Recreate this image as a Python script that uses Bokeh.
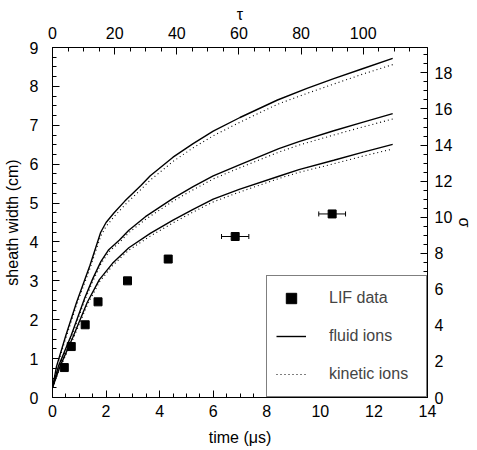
from bokeh.plotting import figure
from bokeh.models import (Range1d, LinearAxis, FixedTicker, Whisker, ColumnDataSource,
                          Legend, LegendItem, TeeHead)
from bokeh.embed import file_html
from bokeh.resources import INLINE

# ---- data ----
lif_t = [0.44, 0.70, 1.22, 1.70, 2.80, 4.32, 6.82, 10.44]
lif_w = [0.77, 1.31, 1.87, 2.46, 3.00, 3.56, 4.14, 4.72]
lif_terr = [0.08, 0.08, 0.10, 0.10, 0.12, 0.12, 0.51, 0.50]

t_top = [0, 0.15, 0.5, 0.9, 1.4, 1.8, 2.0, 2.3, 2.7, 3.3, 3.65, 4.5, 5.25, 6.0, 7.0, 8.4, 9.5, 10.5, 11.6, 12.7]
fluid_top = [0.25, 0.8, 1.6, 2.45, 3.4, 4.25, 4.5, 4.75, 5.05, 5.45, 5.7, 6.18, 6.53, 6.85, 7.2, 7.65, 7.95, 8.2, 8.46, 8.72]
kinetic_top = [0.25, 0.76, 1.53, 2.38, 3.32, 4.15, 4.4, 4.65, 4.95, 5.35, 5.59, 6.07, 6.42, 6.73, 7.08, 7.54, 7.82, 8.06, 8.32, 8.56]

t_mid = [0, 0.22, 0.7, 1.2, 1.5, 1.81, 2.1, 2.5, 2.85, 3.47, 4.5, 5.25, 6.0, 7.0, 8.45, 9.2, 10.5, 11.6, 12.7]
fluid_mid = [0.25, 0.8, 1.6, 2.55, 3.05, 3.5, 3.8, 4.05, 4.3, 4.65, 5.12, 5.42, 5.7, 5.99, 6.40, 6.58, 6.86, 7.08, 7.30]
kinetic_mid = [0.25, 0.76, 1.54, 2.49, 2.98, 3.44, 3.74, 3.99, 4.24, 4.58, 5.05, 5.34, 5.62, 5.91, 6.31, 6.49, 6.75, 6.96, 7.16]

t_bot = [0, 0.28, 0.76, 1.3, 1.75, 2.24, 2.85, 3.65, 4.5, 5.25, 6.0, 6.97, 8.45, 9.2, 10.5, 11.6, 12.7]
fluid_bot = [0.25, 0.8, 1.55, 2.45, 3.03, 3.45, 3.85, 4.22, 4.56, 4.84, 5.1, 5.35, 5.69, 5.86, 6.1, 6.31, 6.51]
kinetic_bot = [0.25, 0.76, 1.49, 2.38, 2.97, 3.39, 3.79, 4.15, 4.49, 4.77, 5.03, 5.28, 5.63, 5.79, 6.01, 6.21, 6.39]

x_ticks = [0, 2, 4, 6, 8, 10, 12, 14]
y_ticks = [0, 1, 2, 3, 4, 5, 6, 7, 8, 9]
tau_ticks = [0, 20, 40, 60, 80, 100]
sigma_ticks = [0, 2, 4, 6, 8, 10, 12, 14, 16, 18]
tau_max = 120.7
sigma_max = 19.41

FONT = "Liberation Sans"

p = figure(width=476, height=448, x_range=Range1d(0, 14), y_range=Range1d(0, 9),
           output_backend="svg", toolbar_location=None,
           min_border_left=51, min_border_right=46, min_border_top=47, min_border_bottom=50)
p.background_fill_color = "white"
p.border_fill_color = "white"
p.outline_line_color = "black"
p.outline_line_width = 1
p.grid.grid_line_color = None

p.extra_x_ranges = {"tau": Range1d(0, tau_max)}
p.extra_y_ranges = {"sigma": Range1d(0, sigma_max)}

bottom_axis = p.below[0]
left_axis = p.left[0]
top_axis = LinearAxis(x_range_name="tau", axis_label="τ")
right_axis = LinearAxis(y_range_name="sigma", axis_label="σ")
p.add_layout(top_axis, "above")
p.add_layout(right_axis, "right")

bottom_axis.axis_label = "time (μs)"
left_axis.axis_label = "sheath width (cm)"

def minor(major, n):
    out = []
    for a, b in zip(major[:-1], major[1:]):
        step = (b - a) / n
        out += [a + step * k for k in range(1, n)]
    return out

bottom_axis.ticker = FixedTicker(ticks=x_ticks, minor_ticks=minor(x_ticks, 4))
left_axis.ticker = FixedTicker(ticks=y_ticks, minor_ticks=minor(y_ticks, 4))
top_axis.ticker = FixedTicker(ticks=tau_ticks, minor_ticks=minor(tau_ticks + [120], 4))
right_axis.ticker = FixedTicker(ticks=sigma_ticks, minor_ticks=minor(sigma_ticks + [20], 4))

for ax in [bottom_axis, left_axis, top_axis, right_axis]:
    ax.axis_line_color = "black"
    ax.axis_line_width = 1
    ax.major_tick_in = 7
    ax.major_tick_out = 0
    ax.minor_tick_in = 4
    ax.minor_tick_out = 0
    ax.major_tick_line_color = "black"
    ax.minor_tick_line_color = "black"
    ax.major_label_text_font = FONT
    ax.major_label_text_font_size = "16px"
    ax.major_label_text_color = "black"
    ax.axis_label_text_font = FONT
    ax.axis_label_text_font_size = "16px"
    ax.axis_label_text_font_style = "normal"
    ax.axis_label_text_color = "black"

bottom_axis.major_label_standoff = 7
bottom_axis.axis_label_standoff = 9
left_axis.major_label_standoff = 14
left_axis.axis_label_standoff = 6
top_axis.major_label_standoff = 9
top_axis.axis_label_standoff = 1
right_axis.major_label_standoff = 7
right_axis.axis_label_standoff = 1

# ---- curves ----
fluid = p.multi_line(xs=[t_top, t_mid, t_bot], ys=[fluid_top, fluid_mid, fluid_bot],
                     line_color="black", line_width=1.4)
kinetic = p.multi_line(xs=[t_top, t_mid, t_bot], ys=[kinetic_top, kinetic_mid, kinetic_bot],
                       line_color="black", line_width=1.1, line_dash="1 3")

# ---- LIF data ----
src = ColumnDataSource(data=dict(
    t=lif_t, w=lif_w,
    lo=[a - e for a, e in zip(lif_t, lif_terr)],
    hi=[a + e for a, e in zip(lif_t, lif_terr)],
))
wh = Whisker(source=src, base="w", lower="lo", upper="hi", dimension="width",
             line_color="black", line_width=1,
             upper_head=TeeHead(size=5, line_color="black", line_width=1),
             lower_head=TeeHead(size=5, line_color="black", line_width=1))
p.add_layout(wh)
lif = p.scatter("t", "w", source=src, marker="square", size=8,
                fill_color="black", line_color="black")

legend = Legend(items=[
    LegendItem(label="LIF data", renderers=[lif]),
    LegendItem(label="fluid ions", renderers=[fluid]),
    LegendItem(label="kinetic ions", renderers=[kinetic]),
], location="bottom_right")
legend.margin = 0
legend.padding = 9
legend.spacing = 12
legend.glyph_width = 30
legend.glyph_height = 26
legend.label_height = 26
legend.label_width = 88
legend.label_standoff = 23
legend.label_text_font = FONT
legend.label_text_font_size = "16px"
legend.border_line_color = "black"
legend.border_line_width = 1
legend.background_fill_color = "white"
legend.background_fill_alpha = 1
p.add_layout(legend)

open("out.html", "w").write(file_html(p, INLINE))
